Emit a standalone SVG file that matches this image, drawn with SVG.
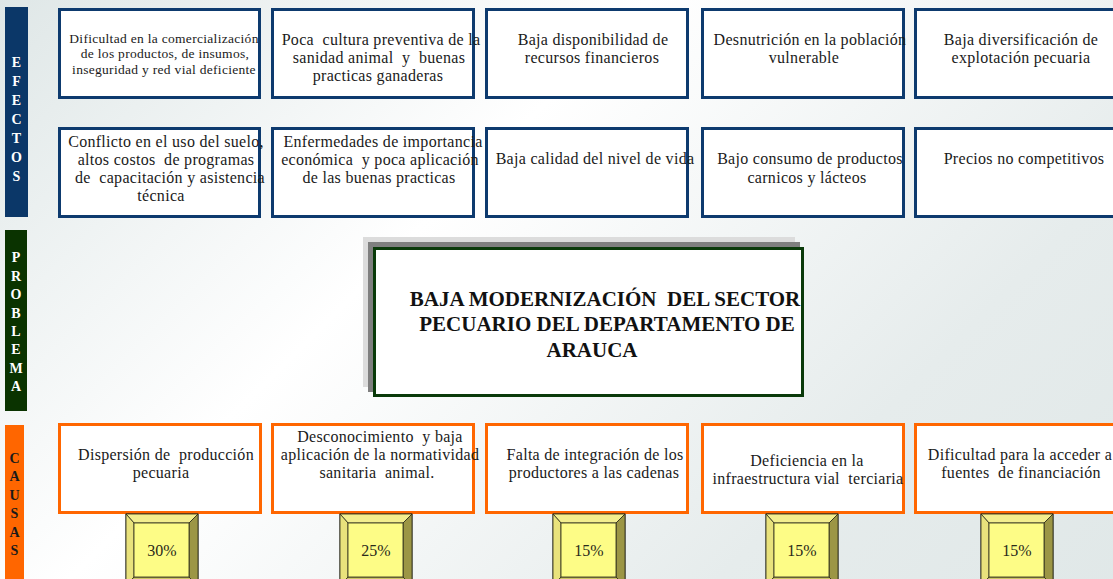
<svg xmlns="http://www.w3.org/2000/svg" width="1113" height="579" viewBox="0 0 1113 579">
<defs>
<linearGradient id="bg" gradientUnits="userSpaceOnUse" x1="0" y1="0" x2="900" y2="900">
<stop offset="0" stop-color="#dfe7e7"/>
<stop offset="0.36" stop-color="#ffffff"/>
<stop offset="0.72" stop-color="#e6ecec"/>
<stop offset="1" stop-color="#dfe7e7"/>
</linearGradient>
<g id="pct">
<rect x="0" y="0" width="72" height="72" fill="#fdfc86" stroke="#2a2a1a" stroke-width="1"/>
<polygon points="0,0 72,0 63,9 8,9" fill="#f3ee8e" stroke="#2a2a1a" stroke-width="0.8"/>
<polygon points="0,0 8,9 8,63 0,72" fill="#e9e27c" stroke="#2a2a1a" stroke-width="0.8"/>
<polygon points="72,0 72,72 63,63 63,9" fill="#9c9645" stroke="#2a2a1a" stroke-width="0.8"/>
<polygon points="0,72 8,63 63,63 72,72" fill="#cbc264" stroke="#2a2a1a" stroke-width="0.8"/>
<rect x="8" y="9" width="55" height="54" fill="#fdfc86" stroke="#2a2a1a" stroke-width="0.8"/>
</g>
</defs>
<style>
.t{font-size:16px;letter-spacing:0.3px;fill:#1a1a1a;text-anchor:middle;white-space:pre;}
.s{font-size:13.5px;letter-spacing:0.3px;fill:#1a1a1a;text-anchor:middle;white-space:pre;}
.side{font-size:14px;font-weight:bold;fill:#ffffff;text-anchor:middle;}
.dark{fill:#1a1a1a;}
.eb{fill:#ffffff;stroke:#0d3a6e;stroke-width:3;}
.cb{fill:#ffffff;stroke:#ff6600;stroke-width:3;}
.p{font-size:16px;fill:#2a2a1a;text-anchor:middle;}
.title{font-size:21px;font-weight:bold;fill:#111111;text-anchor:middle;white-space:pre;}
</style>
<rect x="0" y="0" width="1113" height="579" fill="url(#bg)"/>
<g font-family="'Liberation Serif', 'Times New Roman', serif">
<g id="sidebar-efectos">
<rect x="5" y="7" width="23" height="210" fill="#0b3768"/>
<text class="side" x="16.5" y="67">E</text>
<text class="side" x="16.5" y="86">F</text>
<text class="side" x="16.5" y="105">E</text>
<text class="side" x="16.5" y="124">C</text>
<text class="side" x="16.5" y="143">T</text>
<text class="side" x="16.5" y="162">O</text>
<text class="side" x="16.5" y="181">S</text>
</g>
<g id="sidebar-problema">
<rect x="5" y="230" width="22" height="181" fill="#0a3300"/>
<text class="side" x="16" y="262">P</text>
<text class="side" x="16" y="281">R</text>
<text class="side" x="16" y="299">O</text>
<text class="side" x="16" y="318">B</text>
<text class="side" x="16" y="336">L</text>
<text class="side" x="16" y="354">E</text>
<text class="side" x="16" y="373">M</text>
<text class="side" x="16" y="391">A</text>
</g>
<g id="sidebar-causas">
<rect x="5" y="425" width="19" height="160" fill="#ff6600"/>
<text class="side dark" x="14.5" y="463">C</text>
<text class="side dark" x="14.5" y="481">A</text>
<text class="side dark" x="14.5" y="500">U</text>
<text class="side dark" x="14.5" y="518">S</text>
<text class="side dark" x="14.5" y="537">A</text>
<text class="side dark" x="14.5" y="555">S</text>
</g>

<g id="efecto-1">
<rect class="eb" x="59.5" y="9.5" width="200" height="88"/>
<text class="s" x="164" y="43">Dificultad en la comercialización</text>
<text class="s" x="165" y="58">de los productos, de insumos,</text>
<text class="s" x="164" y="74">inseguridad y red vial deficiente</text>
</g>
<g id="efecto-2">
<rect class="eb" x="272.5" y="9.5" width="201" height="88"/>
<text class="t" x="381" y="45">Poca  cultura preventiva de la</text>
<text class="t" x="379" y="63">sanidad animal  y  buenas</text>
<text class="t" x="378" y="81">practicas ganaderas</text>
</g>
<g id="efecto-3">
<rect class="eb" x="486.5" y="9.5" width="201" height="88"/>
<text class="t" x="593" y="45">Baja disponibilidad de</text>
<text class="t" x="592" y="63">recursos financieros</text>
</g>
<g id="efecto-4">
<rect class="eb" x="702.5" y="9.5" width="201" height="88"/>
<text class="t" x="810" y="45">Desnutrición en la población</text>
<text class="t" x="804" y="63">vulnerable</text>
</g>
<g id="efecto-5">
<rect class="eb" x="915.5" y="9.5" width="201" height="88"/>
<text class="t" x="1021" y="45">Baja diversificación de</text>
<text class="t" x="1021" y="63">explotación pecuaria</text>
</g>
<g id="efecto-6">
<rect class="eb" x="59.5" y="128.5" width="200" height="88"/>
<text class="t" x="166" y="147">Conflicto en el uso del suelo,</text>
<text class="t" x="166" y="165">altos costos  de programas</text>
<text class="t" x="170" y="183">de  capacitación y asistencia</text>
<text class="t" x="161" y="201">técnica</text>
</g>
<g id="efecto-7">
<rect class="eb" x="272.5" y="128.5" width="201" height="88"/>
<text class="t" x="383" y="147">Enfermedades de importancia</text>
<text class="t" x="380" y="165">económica  y poca aplicación</text>
<text class="t" x="379" y="183">de las buenas practicas</text>
</g>
<g id="efecto-8">
<rect class="eb" x="486.5" y="128.5" width="201" height="88"/>
<text class="t" x="595" y="164">Baja calidad del nivel de vida</text>
</g>
<g id="efecto-9">
<rect class="eb" x="702.5" y="128.5" width="201" height="88"/>
<text class="t" x="810" y="164">Bajo consumo de productos</text>
<text class="t" x="807" y="183">carnicos y lácteos</text>
</g>
<g id="efecto-10">
<rect class="eb" x="915.5" y="128.5" width="201" height="88"/>
<text class="t" x="1024" y="164">Precios no competitivos</text>
</g>

<g id="problema">
<rect x="363" y="237" width="432" height="150" fill="#dcdcdc"/>
<rect x="368" y="242" width="432" height="150" fill="#7f7f7f"/>
<rect x="374.5" y="248.5" width="428" height="147" fill="#ffffff" stroke="#0a3a0a" stroke-width="3"/>
<text class="title" x="605" y="306">BAJA MODERNIZACIÓN  DEL SECTOR</text>
<text class="title" x="607" y="331">PECUARIO DEL DEPARTAMENTO DE</text>
<text class="title" x="592" y="357">ARAUCA</text>
</g>

<g id="causa-1">
<rect class="cb" x="59.5" y="424.5" width="201" height="88"/>
<text class="t" x="166" y="460">Dispersión de  producción</text>
<text class="t" x="161" y="478">pecuaria</text>
</g>
<g id="causa-2">
<rect class="cb" x="272.5" y="424.5" width="201" height="88"/>
<text class="t" x="380" y="442">Desconocimiento  y baja</text>
<text class="t" x="380" y="460">aplicación de la normatividad</text>
<text class="t" x="377" y="478">sanitaria  animal.</text>
</g>
<g id="causa-3">
<rect class="cb" x="486.5" y="424.5" width="201" height="88"/>
<text class="t" x="595" y="460">Falta de integración de los</text>
<text class="t" x="594" y="478">productores a las cadenas</text>
</g>
<g id="causa-4">
<rect class="cb" x="702.5" y="424.5" width="201" height="88"/>
<text class="t" x="807" y="466">Deficiencia en la</text>
<text class="t" x="808" y="484">infraestructura vial  terciaria</text>
</g>
<g id="causa-5">
<rect class="cb" x="915.5" y="424.5" width="201" height="88"/>
<text class="t" x="1020" y="460">Dificultad para la acceder a</text>
<text class="t" x="1021" y="478">fuentes  de financiación</text>
</g>

<g id="pct-1"><use href="#pct" x="126" y="514"/><text class="p" x="162" y="556">30%</text></g>
<g id="pct-2"><use href="#pct" x="340" y="514"/><text class="p" x="376" y="556">25%</text></g>
<g id="pct-3"><use href="#pct" x="553" y="514"/><text class="p" x="589" y="556">15%</text></g>
<g id="pct-4"><use href="#pct" x="766" y="514"/><text class="p" x="802" y="556">15%</text></g>
<g id="pct-5"><use href="#pct" x="981" y="514"/><text class="p" x="1017" y="556">15%</text></g>
</g>
<g id="connectors"/>
</svg>
